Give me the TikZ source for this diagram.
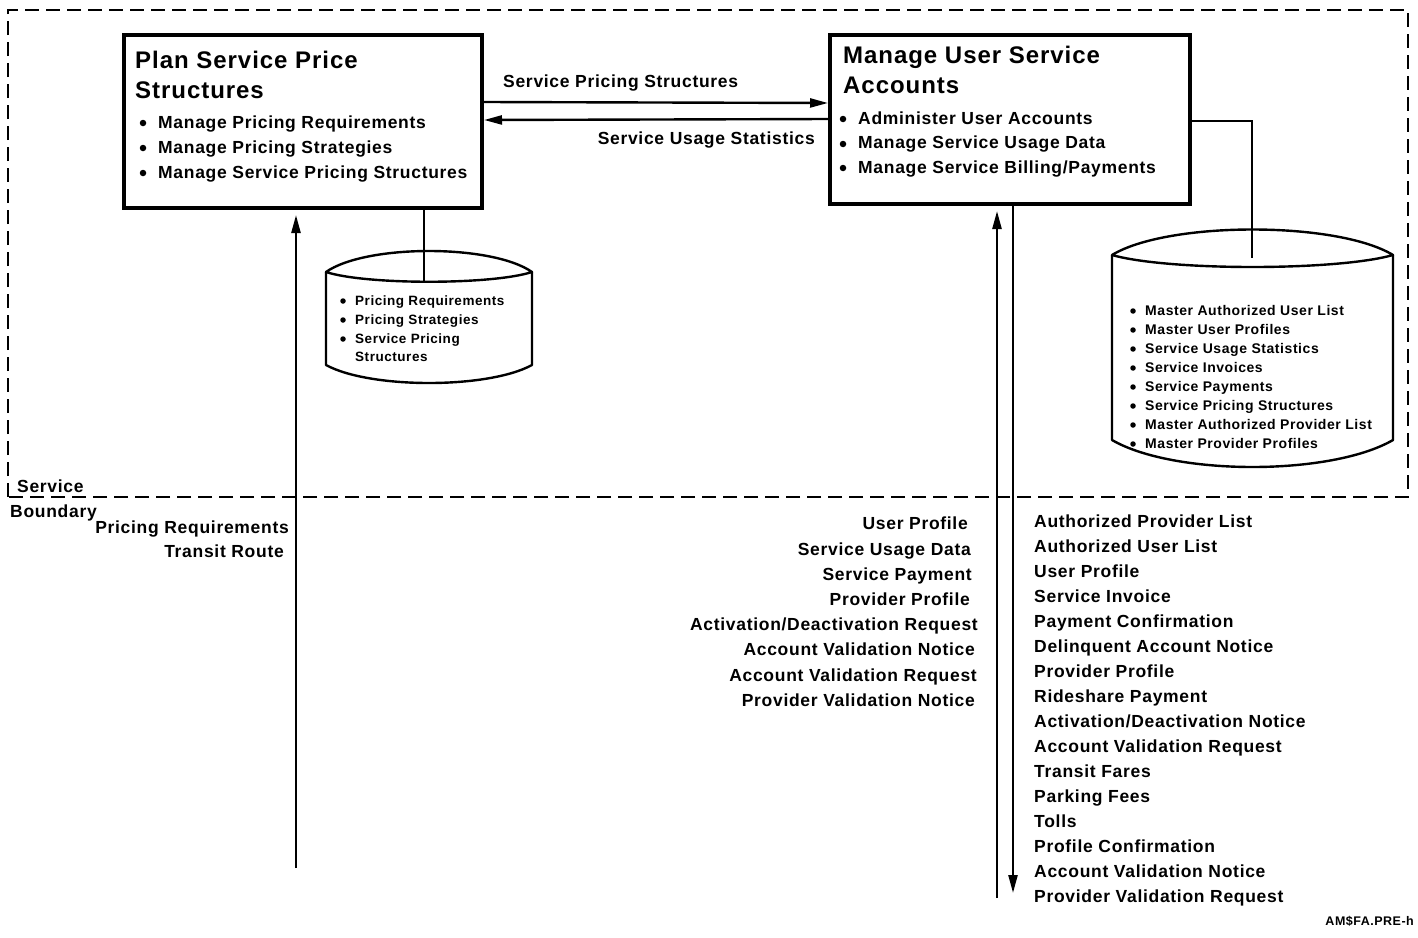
\documentclass[tikz,border=0pt]{standalone}
\usepackage{fontspec}
\setmainfont{Liberation Sans}
\newfontfamily\hv[LetterSpace=4]{Liberation Sans}
\usetikzlibrary{arrows.meta,calc}
\newcommand\fttl{\hv\bfseries\fontsize{24}{28}\selectfont}
\newcommand\flbl{\hv\bfseries\fontsize{17.5}{20}\selectfont}
\newcommand\fsmA{\hv\bfseries\fontsize{13.5}{16}\selectfont}
\newcommand\fsmB{\hv\bfseries\fontsize{14}{16}\selectfont}
\newcommand\fid{\hv\bfseries\fontsize{12.5}{14}\selectfont}
\tikzset{
  procbox/.style={draw, line width=4pt, inner sep=0pt},
  ttl/.style={anchor=base west, inner sep=0pt, font=\fttl},
  lw/.style={anchor=base west, inner sep=0pt, font=\flbl},
  le/.style={anchor=base east, inner sep=0pt, font=\flbl},
  sa/.style={anchor=base west, inner sep=0pt, font=\fsmA},
  sb/.style={anchor=base west, inner sep=0pt, font=\fsmB},
  bdot/.style={fill, circle, inner sep=0pt, minimum size=6.5pt},
  sdot/.style={fill, circle, inner sep=0pt, minimum size=5.5pt},
  conn/.style={line width=2.4pt},
  flow/.style={line width=2.4pt, -{Triangle[length=18pt,width=9pt]}},
  bound/.style={line width=2.5pt, dash pattern=on 14pt off 7pt},
  cyl/.style={line width=2.4pt, line join=round}
}
\begin{document}
\begin{tikzpicture}[x=1pt,y=-1pt]
\useasboundingbox (0,0) rectangle (1418,937);

% service boundary
\draw[bound] (8,497) -- (8,10) -- (1408,10) -- (1408,497) -- cycle;
\node[lw, anchor=base west] (sv) at (17,492) {Service};
\node[lw, anchor=base west] (sb) at (10,517) {Boundary};

% process boxes
\node[procbox, minimum width=358pt, minimum height=173pt] (L) at (303,121.5) {};
\node[procbox, minimum width=360pt, minimum height=169pt] (R) at (1010,119.5) {};

\node[ttl] (Lt1) at (135,68) {Plan Service Price};
\node[ttl] (Lt2) at (135,98) {Structures};
\node[bdot] (Ld1) at (143,123) {};
\node[bdot] (Ld2) at (143,148) {};
\node[bdot] (Ld3) at (143,173) {};
\node[lw] (Li1) at (158,128) {Manage Pricing Requirements};
\node[lw] (Li2) at (158,153) {Manage Pricing Strategies};
\node[lw] (Li3) at (158,178) {Manage Service Pricing Structures};

\node[ttl] (Rt1) at (843,63) {Manage User Service};
\node[ttl] (Rt2) at (843,93) {Accounts};
\node[bdot] (Rd1) at (843,119) {};
\node[bdot] (Rd2) at (843,144) {};
\node[bdot] (Rd3) at (843,168) {};
\node[lw] (Ri1) at (858,124) {Administer User Accounts};
\node[lw] (Ri2) at (858,148) {Manage Service Usage Data};
\node[lw] (Ri3) at (858,173) {Manage Service Billing/Payments};

% flows between boxes
\draw[flow] ([yshift=-69pt]L.north east) -- ([yshift=-70pt]R.north west);
\node[lw] (f1) at (503,87) {Service Pricing Structures};
\draw[flow] ([yshift=-86pt]R.north west) -- ([yshift=-87pt]L.north east);
\node[le] (f2) at (815,144) {Service Usage Statistics};

% left data store
\coordinate (c1) at (424,281);
\draw[cyl] (326,272) .. controls (366,244) and (492,244) .. (532,272)
           .. controls (492,285) and (366,285) .. (326,272) -- cycle;
\draw[cyl] (326,272) -- (326,365) .. controls (370,389) and (488,389) .. (532,365) -- (532,272);
\draw[conn] (c1 |- L.south) -- (c1);
\node[sdot] (s1d1) at (343,301) {};
\node[sdot] (s1d2) at (343,320) {};
\node[sdot] (s1d3) at (343,339) {};
\node[sa] (s1i1) at (355,305) {Pricing Requirements};
\node[sa] (s1i2) at (355,324) {Pricing Strategies};
\node[sa] (s1i3) at (355,343) {Service Pricing};
\node[sa] (s1i4) at (355,361) {Structures};

% right data store
\coordinate (c2) at (1252,258);
\draw[cyl] (1112,255) .. controls (1168,221) and (1337,221) .. (1393,255)
           .. controls (1337,271) and (1168,271) .. (1112,255) -- cycle;
\draw[cyl] (1112,255) -- (1112,440) .. controls (1174,476) and (1331,476) .. (1393,440) -- (1393,255);
\draw[conn] ([yshift=-88pt]R.north east) -| (c2);
\node[sdot] (s2d1) at (1133,311) {};
\node[sdot] (s2d2) at (1133,330) {};
\node[sdot] (s2d3) at (1133,349) {};
\node[sdot] (s2d4) at (1133,368) {};
\node[sdot] (s2d5) at (1133,387) {};
\node[sdot] (s2d6) at (1133,406) {};
\node[sdot] (s2d7) at (1133,425) {};
\node[sdot] (s2d8) at (1133,444) {};
\node[sb] (s2i1) at (1145,315) {Master Authorized User List};
\node[sb] (s2i2) at (1145,334) {Master User Profiles};
\node[sb] (s2i3) at (1145,353) {Service Usage Statistics};
\node[sb] (s2i4) at (1145,372) {Service Invoices};
\node[sb] (s2i5) at (1145,391) {Service Payments};
\node[sb] (s2i6) at (1145,410) {Service Pricing Structures};
\node[sb] (s2i7) at (1145,429) {Master Authorized Provider List};
\node[sb] (s2i8) at (1145,448) {Master Provider Profiles};

% external flows
\coordinate (e1) at (296,868);
\draw[flow] (e1) -- ([yshift=-5pt]e1 |- L.south);
\node[le] (x1) at (289,533) {Pricing Requirements};
\node[le] (x2) at (284,557) {Transit Route};

\coordinate (e2) at (997,898);
\coordinate (e3) at (1013,893);
\draw[flow] (e2) -- ([yshift=-5pt]e2 |- R.south);
\draw[flow] (e3 |- R.south) -- (e3);

\node[le] (u1) at (968,529) {User Profile};
\node[le] (u2) at (971,555) {Service Usage Data};
\node[le] (u3) at (972,580) {Service Payment};
\node[le] (u4) at (970,605) {Provider Profile};
\node[le] (u5) at (978,630) {Activation/Deactivation Request};
\node[le] (u6) at (975,655) {Account Validation Notice};
\node[le] (u7) at (977,681) {Account Validation Request};
\node[le] (u8) at (975,706) {Provider Validation Notice};

\node[lw] (o1) at (1034,527) {Authorized Provider List};
\node[lw] (o2) at (1034,552) {Authorized User List};
\node[lw] (o3) at (1034,577) {User Profile};
\node[lw] (o4) at (1034,602) {Service Invoice};
\node[lw] (o5) at (1034,627) {Payment Confirmation};
\node[lw] (o6) at (1034,652) {Delinquent Account Notice};
\node[lw] (o7) at (1034,677) {Provider Profile};
\node[lw] (o8) at (1034,702) {Rideshare Payment};
\node[lw] (o9) at (1034,727) {Activation/Deactivation Notice};
\node[lw] (o10) at (1034,752) {Account Validation Request};
\node[lw] (o11) at (1034,777) {Transit Fares};
\node[lw] (o12) at (1034,802) {Parking Fees};
\node[lw] (o13) at (1034,827) {Tolls};
\node[lw] (o14) at (1034,852) {Profile Confirmation};
\node[lw] (o15) at (1034,877) {Account Validation Notice};
\node[lw] (o16) at (1034,902) {Provider Validation Request};

\node[anchor=base east, inner sep=0pt, font=\fid] (id) at (1414,925) {AM\$FA.PRE-h};
\end{tikzpicture}
\end{document}
